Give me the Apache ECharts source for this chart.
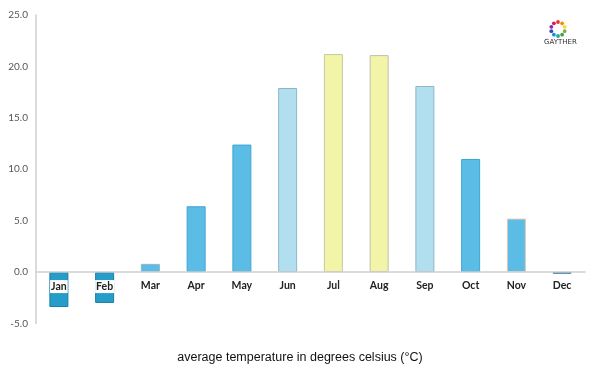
<!DOCTYPE html>
<html><head><meta charset="utf-8">
<script src="https://cdn.jsdelivr.net/npm/echarts@6/dist/echarts.min.js"></script>
<style>html,body{margin:0;padding:0;background:#fff}#c{width:600px;height:375px}</style>
</head><body><div id="c"></div>
<script>
const months = ['Jan','Feb','Mar','Apr','May','Jun','Jul','Aug','Sep','Oct','Nov','Dec'];
const temps = [-3.4, -3.0, 0.8, 6.4, 12.4, 17.9, 21.2, 21.1, 18.1, 11.0, 5.2, -0.15];
const fills = ['#259dc8','#259dc8','#5bbde6','#5bbde6','#5bbde6','#b2dff0','#f2f4a8','#f2f4a8','#b2dff0','#5bbde6','#5bbde6','#1f6a8e'];
const borders = ['#1a7ea6','#1a7ea6','#8fb5c8','#3fa5d0','#3fa5d0','#8fb6c6','#c8c8a0','#c0c0b0','#8fb6c6','#3fa5d0','#e0c8b8','#1f6a8e'];
const yTicks = [-5, 0, 5, 10, 15, 20, 25];
const caption = 'average temperature in degrees celsius (°C)';

const chart = echarts.init(document.getElementById('c'), null, {renderer:'canvas'});
const logoColors = ['#e53935','#fb8c00','#fdd835','#7cb342','#43a047','#26a69a','#1e88e5','#3949ab','#8e24aa','#d81b60'];
const logo = [];
for (let i = 0; i < logoColors.length; i++) {
  const a = i / logoColors.length * Math.PI * 2 - Math.PI / 2;
  logo.push({type:'circle', shape:{cx:558 + Math.cos(a)*7, cy:29 + Math.sin(a)*7, r:1.9}, style:{fill:logoColors[i]}});
}
logo.push({type:'text', left:544, top:39, style:{text:'GAYTHER', font:'7px "DejaVu Sans"', fill:'#333'}});

const gridTop = 15, gridBottom = 51.5, H = 375;
const zeroOffset = -((H - gridBottom) - (gridTop + (H - gridTop - gridBottom) * yTicks[yTicks.length-1] / (yTicks[yTicks.length-1] - yTicks[0])));

chart.setOption({
  animation:false,
  grid:{left:36, right:15, top:gridTop, bottom:gridBottom},
  xAxis:{
    type:'category', data: months.map((m,i)=> i<2 ? {value:m, textStyle:{backgroundColor:'#fff', padding:[1,1]}} : m),
    z:10, offset: zeroOffset,
    axisLine:{onZero:false, lineStyle:{color:'#cfcfcf', width:1.5}},
    axisTick:{show:false},
    axisLabel:{color:'#222', fontSize:10.5, fontWeight:'bold', fontFamily:'Lato', margin:8}
  },
  yAxis:{
    type:'value', min:yTicks[0], max:yTicks[yTicks.length-1], interval:5,
    splitLine:{show:false},
    axisLine:{show:true, lineStyle:{color:'#cfcfcf', width:1.5}},
    axisTick:{show:false},
    axisLabel:{color:'#555', fontSize:10, fontFamily:'Lato', margin:8, formatter:v=>v.toFixed(1)}
  },
  series:[{
    type:'bar', barWidth:19,
    data: temps.map((v,i)=>({value:v, itemStyle:{color:fills[i], borderColor:borders[i], borderWidth:1}}))
  }],
  graphic:[
    {type:'text', left:'center', top:351, style:{text:caption, font:'12.5px "Liberation Sans"', fill:'#111'}},
    ...logo
  ]
});
</script></body></html>
